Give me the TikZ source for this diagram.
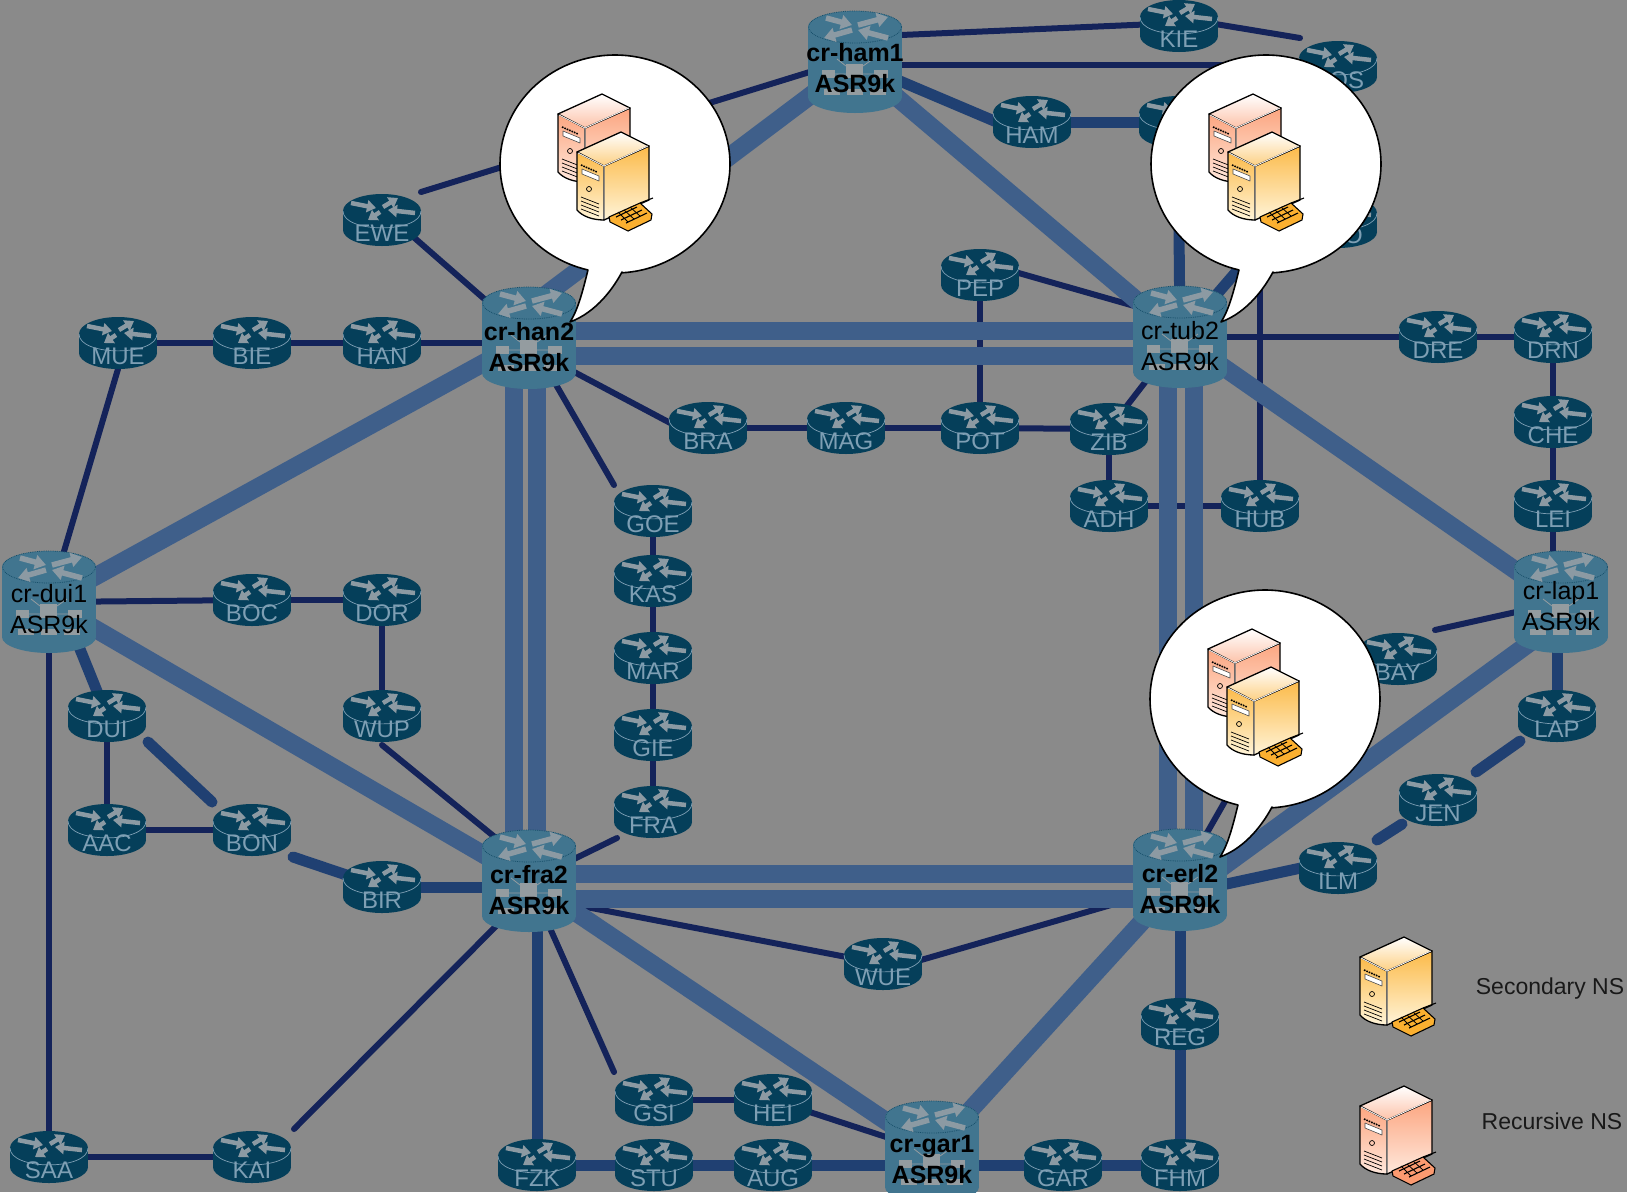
\documentclass[tikz,border=0pt]{standalone}
\usepackage{fontspec}
\setmainfont{Liberation Sans}
\usetikzlibrary{arrows.meta}
\pgfdeclarelayer{back}
\pgfsetlayers{back,main}
\definecolor{bgc}{HTML}{8A8A8A}
\definecolor{rdark}{HTML}{053F5A}
\definecolor{rbig}{HTML}{41758F}
\definecolor{rlab}{HTML}{7E9FB4}
\definecolor{rarr}{HTML}{8C9AA3}
\definecolor{ricon}{HTML}{949CA0}
\definecolor{lkthick}{HTML}{3F5F8A}
\definecolor{lkmed}{HTML}{204072}
\definecolor{lkthin}{HTML}{14235A}
\definecolor{yelM}{HTML}{FBB030}
\definecolor{yelP}{HTML}{FFF4D8}
\definecolor{pnkM}{HTML}{FB9A70}
\definecolor{pnkP}{HTML}{FFE8DC}
\newcommand\rtrart{%
  \fill[rdark] (-39,-9) rectangle (39,10);
  \fill[rdark] (0,-9) ellipse [x radius=39pt,y radius=17pt];
  \fill[rdark] (0,10) ellipse [x radius=39pt,y radius=16pt];
  \draw[rlab,line width=.7pt] (-39,-9) .. controls (-39,13.5) and (39,13.5) .. (39,-9);
  \begin{scope}[rarr,line width=4.5pt,-{Stealth[length=9pt,width=12pt,inset=0pt]}]
   \draw (-31,-17) -- (-6,-12);
   \draw (1,-13) -- (16,-22);
   \draw (33,-7) -- (6,-10);
   \draw (-2,-8) -- (-14,0);
  \end{scope}}
\newcommand\bigart{%
  \fill[rbig] (-47,-35) rectangle (47,35);
  \fill[rbig] (0,-35) ellipse [x radius=47pt,y radius=16pt];
  \fill[rbig] (0,35) ellipse [x radius=47pt,y radius=16pt];
  \draw[rdark!70!rbig,line width=.8pt,densely dotted] (0,-35) ellipse [x radius=46.5pt,y radius=16pt];
  \begin{scope}[rarr,line width=5.5pt,-{Stealth[length=11pt,width=14pt,inset=0pt]}]
   \draw (-29,-44) -- (-3,-37);
   \draw (3,-37) -- (33,-45);
   \draw (-3,-32) -- (-31,-24);
   \draw (33,-24) -- (3,-32);
  \end{scope}
  \fill[ricon] (-9,2) rectangle (8,16);
  \fill[ricon] (-33,8) rectangle (-20,16);
  \fill[ricon] (19,8) rectangle (33,16);
  \fill[ricon] (-31,27) rectangle (-15,33);
  \fill[ricon] (-8,27) rectangle (8,33);
  \fill[ricon] (15,27) rectangle (31,33);
  \draw[ricon,line width=.8pt] (-9,4) -- (-18,-3) (8,4) -- (18,-3) (-20,12) -- (-9,12) (8,12) -- (19,12);}
\newcommand\rl[1]{\raisebox{-21pt}[0pt][0pt]{#1}}
\newcommand\sr[4]{\begin{scope}[shift={(#2,#3)}]\rtrart\end{scope}\node[rtr] (#1) at (#2,#3) {\rl{#4}};}
\newcommand\core[6]{\begin{scope}[shift={(#2,#3)}]\bigart\end{scope}\node[bigrtr] (#1) at (#2,#3) {\raisebox{#6pt}[0pt][0pt]{\makebox[0pt]{\parbox[b]{130pt}{\centering #4 #5\\ASR9k}}}};}
\newcommand\srv[4]{%
 \begin{scope}[shift={(#1,#2)},line width=1.3pt,line join=round]
  \shadedraw[top color=#3!85!#4,bottom color=#4,draw=black] (-27,-14) -- (0,0) -- (0,54) .. controls (-12,54) and (-22,50) .. (-27,44) -- cycle;
  \shadedraw[top color=#3!85!#4,middle color=#3,bottom color=#4,draw=black] (0,0) -- (45,-20) -- (45,34) -- (0,54) -- cycle;
  \shadedraw[top color=white,bottom color=#3!60,draw=black] (-27,-14) -- (17,-34) -- (45,-20) -- (0,0) -- cycle;
  \draw[white,line width=.8pt] (-26,-13) -- (0,0) -- (44,-20) (0,0) -- (0,53);
  \draw[black,line width=1.6pt,densely dotted] (-23,-1) -- (-7,6);
  \draw[black!70,fill=white,line width=.6pt] (-22,3) -- (-5,10) -- (-5,15) -- (-22,8) -- cycle;
  \draw[black,line width=.7pt] (-15,23) circle [radius=2.5pt];
  \draw[black,line width=.7pt] (-23,31) -- (-5,38) (-23,35) -- (-5,42) (-23,39) -- (-5,46) (-23,43) -- (-5,50);
  \draw[black,line width=1.1pt] (36,37) -- (49,32);
  \filldraw[fill=#3,draw=black,line width=1.1pt] (5,51) -- (36,37) -- (48,48) -- (47,54) -- (24,65) -- (6,56) -- cycle;
  \draw[black,line width=1.1pt] (12,51) -- (33,41) (17,54) -- (38,44) (22,57) -- (43,47);
  \draw[black,line width=.8pt] (14,46) -- (24,56) (20,44) -- (30,53) (26,41) -- (36,50);
 \end{scope}}
\newcommand\bubblekey[2]{%
 \filldraw[fill=white,draw=black,line width=1.6pt,line join=round]
  plot[domain=86.5:-256.4,samples=140,variable=\t] ({#1+115*cos(\t)},{#2+109*sin(\t)})
  .. controls ({#1-32},{#2+126}) and ({#1-37},{#2+146}) .. ({#1-45},{#2+158})
  .. controls ({#1-18},{#2+148}) and ({#1-1},{#2+123}) .. ({#1+7},{#2+108}) -- cycle;
 \srv{#1-30}{#2-36}{pnkM}{pnkP}
 \srv{#1-11}{#2+2}{yelM}{yelP}}
\tikzset{
 rtr/.style={rectangle,minimum width=78pt,minimum height=52pt,inner sep=0pt,outer sep=0pt,text=rlab,font=\fontsize{24}{24}\selectfont},
 bigrtr/.style={rectangle,minimum width=94pt,minimum height=102pt,inner sep=0pt,outer sep=0pt,text=black,font=\fontsize{25}{31}\selectfont},
 heavyline/.style={lkthick,line width=18pt},
 medline/.style={lkmed,line width=11pt,line cap=round},
 fineline/.style={lkthin,line width=6pt,line cap=round},
 legendtext/.style={text=black!90,font=\fontsize{23}{27}\selectfont,inner sep=0pt}
}
\begin{document}
\begin{tikzpicture}[x=1pt,y=-1pt]
\useasboundingbox (0,0) rectangle (1627,1192);
% small routers
\sr{KIE}{1179}{26}{KIE}
\sr{ROS}{1338}{67}{ROS}
\sr{HAM}{1032}{122}{HAM}
\sr{HID}{1178}{122}{}
\sr{TEO}{1338}{222}{\phantom{TE}O}
\sr{PEP}{980}{275}{PEP}
\sr{DRE}{1438}{337}{DRE}
\sr{DRN}{1553}{337}{DRN}
\sr{CHE}{1553}{422}{CHE}
\sr{LEI}{1553}{506}{LEI}
\sr{BRA}{708}{428}{BRA}
\sr{MAG}{846}{428}{MAG}
\sr{POT}{980}{428}{POT}
\sr{ZIB}{1109}{429}{ZIB}
\sr{ADH}{1109}{506}{ADH}
\sr{HUB}{1260}{506}{HUB}
\sr{EWE}{382}{220}{EWE}
\sr{MUE}{118}{343}{MUE}
\sr{BIE}{252}{343}{BIE}
\sr{HAN}{382}{343}{HAN}
\sr{GOE}{653}{511}{GOE}
\sr{KAS}{653}{581}{KAS}
\sr{MAR}{653}{658}{MAR}
\sr{GIE}{653}{735}{GIE}
\sr{FRA}{653}{812}{FRA}
\sr{BOC}{252}{600}{BOC}
\sr{DOR}{382}{600}{DOR}
\sr{WUP}{382}{716}{WUP}
\sr{DUI}{107}{716}{DUI}
\sr{AAC}{107}{830}{AAC}
\sr{BON}{252}{830}{BON}
\sr{BIR}{382}{887}{BIR}
\sr{BAY}{1398}{659}{BAY}
\sr{LAP}{1557}{716}{LAP}
\sr{JEN}{1438}{800}{JEN}
\sr{ILM}{1338}{868}{ILM}
\sr{WUE}{883}{964}{WUE}
\sr{REG}{1180}{1024}{REG}
\sr{FHM}{1180}{1165}{FHM}
\sr{GAR}{1063}{1165}{GAR}
\sr{GSI}{654}{1100}{GSI}
\sr{HEI}{773}{1100}{HEI}
\sr{FZK}{537}{1165}{FZK}
\sr{STU}{654}{1165}{STU}
\sr{AUG}{773}{1165}{AUG}
\sr{SAA}{49}{1157}{SAA}
\sr{KAI}{252}{1157}{KAI}
% core routers
\core{ham}{855}{62}{\bfseries}{cr-ham1}{-30}
\core{han}{529}{338}{\bfseries}{cr-han2}{-33}
\core{tub}{1180}{337}{}{cr-tub2}{-33}
\core{dui}{49}{602}{}{cr-dui1}{-31}
\core{lap}{1561}{602}{}{cr-lap1}{-28}
\core{fra}{529}{881}{\bfseries}{cr-fra2}{-33}
\core{erl}{1180}{880}{\bfseries}{cr-erl2}{-33}
\core{gar}{932}{1152}{\bfseries}{cr-gar1}{-31}
% free ends
\coordinate (kieEnd) at (1300,38);
\coordinate (eweEnd) at (421,192);
\coordinate (goeEnd) at (614,485);
\coordinate (fraEnd) at (617,838);
\coordinate (kaiEnd) at (294,1129);
\coordinate (gsiEnd) at (614,1072);
\coordinate (bayEnd) at (1435,630);
\coordinate (lapEnd) at (1520,741);
\coordinate (jenA) at (1476,772);
\coordinate (jenB) at (1402,824);
\coordinate (ilmEnd) at (1377,840);
\coordinate (duiEnd) at (148,742);
\coordinate (bonEnd) at (212,802);
\coordinate (bonStart) at (293,857);
\coordinate (hubUp) at (1260,200);
\coordinate (tubUp) at (1255,250);
\coordinate (erlUp) at (1240,775);
\begin{pgfonlayer}{back}
\fill[bgc] (0,0) rectangle (1627,1192);
% fine links
\draw[fineline] ([yshift=25pt]ham.center) -- ([yshift=3pt]KIE.center);
\draw[fineline] ([yshift=8pt]KIE.center) -- (kieEnd);
\draw[fineline] ([yshift=-3pt]ham.center) -- ([yshift=2pt]ROS.center);
\draw[fineline] ([yshift=4pt]ham.center) -- (eweEnd);
\draw[fineline] ([xshift=12pt]EWE.center) -- (han.center);
\draw[fineline] ([yshift=13pt]PEP.center) -- ([yshift=18pt]tub.center);
\draw[fineline] (PEP.center) -- (POT.center);
\draw[fineline] (tub.center) -- (DRE.center);
\draw[fineline] (DRE.center) -- (DRN.center);
\draw[fineline] (DRN.center) -- (CHE.center);
\draw[fineline] (CHE.center) -- (LEI.center);
\draw[fineline] (LEI.center) -- (LEI.center |- lap.center);
\draw[fineline] (HUB.center) -- (hubUp);
\draw[fineline] (ADH.center) -- (HUB.center);
\draw[fineline] (ZIB.center) -- (ADH.center);
\draw[fineline] (POT.center) -- (ZIB.center);
\draw[fineline] (MAG.center) -- (POT.center);
\draw[fineline] (BRA.center) -- (MAG.center);
\draw[fineline] ([yshift=-10pt]han.center) -- ([yshift=-15pt]BRA.center);
\draw[fineline] (ZIB.center) -- (tub.center);
\draw[fineline] (han.center) -- (goeEnd);
\draw[fineline] (GOE.center) -- (KAS.center);
\draw[fineline] (KAS.center) -- (MAR.center);
\draw[fineline] (MAR.center) -- (GIE.center);
\draw[fineline] (GIE.center) -- (FRA.center);
\draw[fineline] (fraEnd) -- (fra.center);
\draw[fineline] (MUE.center) -- (BIE.center);
\draw[fineline] (BIE.center) -- (HAN.center);
\draw[fineline] (HAN.center) -- (han.center |- HAN.center);
\draw[fineline] ([yshift=-26pt]MUE.center) -- (dui.center);
\draw[fineline] (dui.center) -- (BOC.center);
\draw[fineline] (BOC.center) -- (DOR.center);
\draw[fineline] (DOR.center) -- (WUP.center);
\draw[fineline] ([yshift=-29pt]WUP.center) -- ([yshift=16pt]fra.center);
\draw[fineline] (DUI.center) -- (AAC.center);
\draw[fineline] (AAC.center) -- (BON.center);
\draw[fineline] (dui.center) -- (SAA.center);
\draw[fineline] (SAA.center) -- (KAI.center);
\draw[fineline] (kaiEnd) -- ([yshift=-12pt]fra.center);
\draw[fineline] (fra.center) -- (gsiEnd);
\draw[fineline] (GSI.center) -- (HEI.center);
\draw[fineline] (HEI.center) -- (gar.center);
\draw[fineline] ([yshift=-15pt]fra.center) -- (WUE.center);
\draw[fineline] ([yshift=-7pt]WUE.center) -- ([yshift=-5pt]erl.center);
\draw[fineline] (bayEnd) -- (lap.center);
\draw[fineline] (erl.center) -- (erlUp);
% medium links
\draw[medline] (ham.center) -- ([yshift=-15pt]HAM.center);
\draw[medline] (HAM.center) -- (HID.center);
\draw[medline] (HID.center) -- (tub.center);
\draw[medline] (tub.center) -- (tubUp);
\draw[medline] (LAP.center) -- (LAP.center |- lap.center);
\draw[medline] (jenA) -- (lapEnd);
\draw[medline] (jenB) -- (ilmEnd);
\draw[medline] ([yshift=8pt]ILM.center) -- ([yshift=-14pt]erl.center);
\draw[medline] ([xshift=12pt]dui.center) -- (DUI.center);
\draw[medline] (duiEnd) -- (bonEnd);
\draw[medline] (bonStart) -- (BIR.center);
\draw[medline] (BIR.center) -- (BIR.center -| fra.center);
\draw[medline] (erl.center) -- (REG.center);
\draw[medline] (REG.center) -- (FHM.center);
\draw[medline] (FZK.center) -- (FZK.center |- fra.center);
\draw[medline] (FZK.center) -- (STU.center);
\draw[medline] (STU.center) -- (AUG.center);
\draw[medline] (AUG.center) -- (gar.center |- AUG.center);
\draw[medline] (gar.center |- GAR.center) -- (GAR.center);
\draw[medline] (GAR.center) -- (FHM.center);
% heavy links
\draw[heavyline] ([yshift=7pt]han.center) -- ([yshift=6pt]tub.center);
\draw[heavyline] ([yshift=-18pt]han.center) -- ([yshift=-19pt]tub.center);
\draw[heavyline] ([xshift=-15pt]han.center) -- ([xshift=-15pt]fra.center);
\draw[heavyline] ([xshift=8pt]han.center) -- ([xshift=8pt]fra.center);
\draw[heavyline] ([yshift=7pt]fra.center) -- ([yshift=6pt]erl.center);
\draw[heavyline] ([yshift=-18pt]fra.center) -- ([yshift=-19pt]erl.center);
\draw[heavyline] ([xshift=-12pt]tub.center) -- ([xshift=-12pt]erl.center);
\draw[heavyline] ([xshift=14pt]tub.center) -- ([xshift=14pt]erl.center);
\draw[heavyline] (ham.center) -- ([xshift=15pt,yshift=42pt]han.center);
\draw[heavyline] (ham.center) -- (tub.center);
\draw[heavyline] (han.center) -- (dui.center);
\draw[heavyline] (dui.center) -- (fra.center);
\draw[heavyline] (fra.center) -- (gar.center);
\draw[heavyline] (gar.center) -- (erl.center);
\draw[heavyline] (tub.center) -- (lap.center);
\draw[heavyline] ([yshift=-18pt]lap.center) -- ([yshift=-18pt]erl.center);
\end{pgfonlayer}
\bubblekey{615}{164}
\bubblekey{1266}{164}
\bubblekey{1265}{699}
\srv{1387}{971}{yelM}{yelP}
\srv{1387}{1120}{pnkM}{pnkP}
\node[legendtext] (secNS) at (1550,989) {Secondary NS};
\node[legendtext] (recNS) at (1552,1121) {Recursive NS};
\end{tikzpicture}
\end{document}
